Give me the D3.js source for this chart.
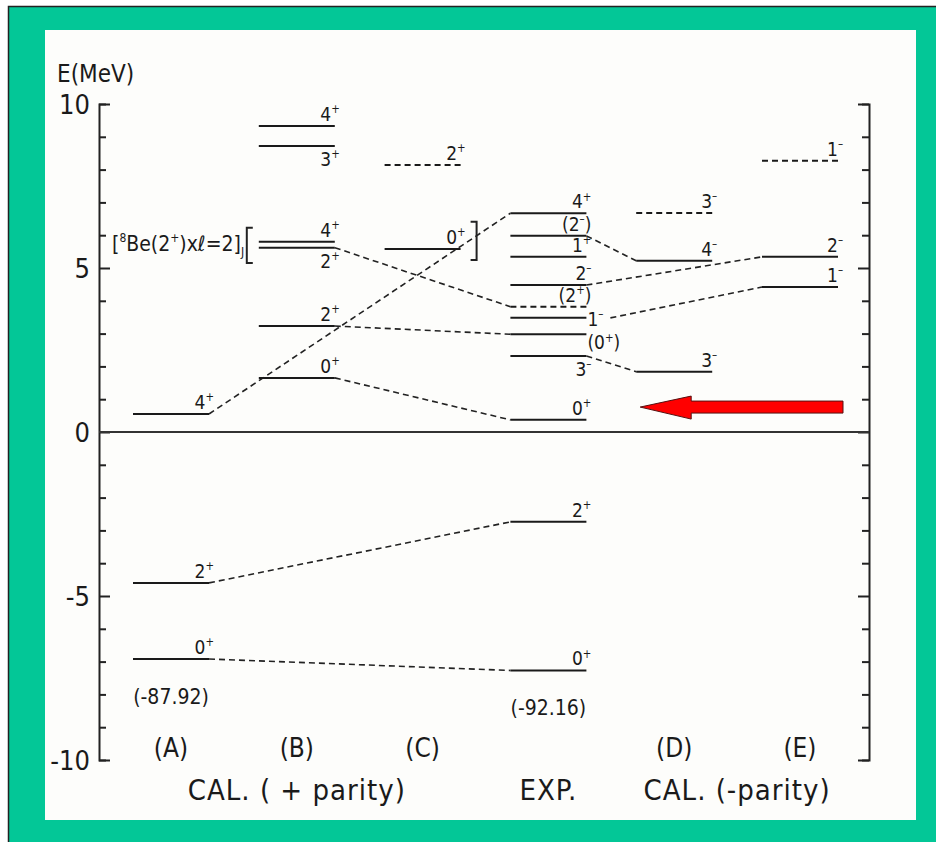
<!DOCTYPE html>
<html lang="en">
<head>
<meta charset="UTF-8">
<title>12C levels</title>
<script src="https://cdn.jsdelivr.net/npm/d3@7"></script>
<style>
  body { margin: 0; background: #fff; }
  svg text { font-family: "Liberation Sans Narrow", "DejaVu Sans Condensed", "Liberation Sans", sans-serif; fill: #1a1a1a; }
</style>
</head>
<body>
<svg id="chart" width="936" height="842"></svg>
<script>
// columns of the level scheme
const columns = ["A", "B", "C", "EXP", "D", "E"];
const columnTags = ["(A)", "(B)", "(C)", "", "(D)", "(E)"];
const groupTitles = [
  { text: "CAL.  ( + parity)", col: "B" },
  { text: "EXP.", col: "EXP" },
  { text: "CAL. (-parity)", col: "D", shift: 0.5 }
];
const yTickLabels = [10, 5, 0, -5, -10];

// level energies (MeV, relative to 3-alpha threshold)
// label: spin^parity ; dashed = tentative / drawn dashed
const levelsA = [
  { id: "A4", e: 0.55, label: "4^+" },
  { id: "A2", e: -4.60, label: "2^+" },
  { id: "A0", e: -6.92, label: "0^+" }
];
const levelsB = [
  { id: "B4a", e: 9.33, label: "4^+" },
  { id: "B3", e: 8.72, label: "3^+" },
  { id: "B4b", e: 5.80, label: "4^+" },
  { id: "B2a", e: 5.62, label: "2^+" },
  { id: "B2b", e: 3.23, label: "2^+" },
  { id: "B0", e: 1.65, label: "0^+" }
];
const levelsC = [
  { id: "C2", e: 8.14, label: "2^+", dashed: true },
  { id: "C0", e: 5.58, label: "0^+" }
];
const levelsEXP = [
  { id: "X4", e: 6.67, label: "4^+" },
  { id: "X2m", e: 5.98, label: "(2^-)" },
  { id: "X1p", e: 5.34, label: "1^+" },
  { id: "X2mb", e: 4.48, label: "2^-" },
  { id: "X2p", e: 3.82, label: "(2^+)", dashed: true },
  { id: "X1m", e: 3.48, label: "1^-" },
  { id: "X0b", e: 2.98, label: "(0^+)" },
  { id: "X3m", e: 2.32, label: "3^-" },
  { id: "X0h", e: 0.37, label: "0^+" },
  { id: "X2g", e: -2.74, label: "2^+" },
  { id: "X0g", e: -7.27, label: "0^+" }
];
const levelsD = [
  { id: "D3a", e: 6.68, label: "3^-", dashed: true },
  { id: "D4", e: 5.22, label: "4^-" },
  { id: "D3b", e: 1.84, label: "3^-" }
];
const levelsE = [
  { id: "E1a", e: 8.27, label: "1^-", dashed: true },
  { id: "E2", e: 5.34, label: "2^-" },
  { id: "E1b", e: 4.42, label: "1^-" }
];

// where a spin label sits when it is not above the line
const labelSide = { B3: "below", B2a: "below", X3m: "below", X1m: "right", X0b: "right" };

// dashed correspondence lines: [from, to]
const links = [
  ["A4", "X4"], ["B2a", "X2p"], ["B2b", "X0b"], ["B0", "X0h"],
  ["A2", "X2g"], ["A0", "X0g"],
  ["X2m", "D4"], ["X2mb", "E2"], ["X1m", "E1b"], ["X3m", "D3b"]
];

// binding energies of the ground states
const groundNotes = [
  { id: "A0", text: "(-87.92)" },
  { id: "X0g", text: "(-92.16)" }
];

// bracketed group [8Be(2+) x l=2]_J spans these levels
const bracketLevels = ["B4b", "B2a", "C0"];
const arrowEnergy = 0.76;

// ---------------------------------------------------------------
const svg = d3.select("#chart");

// teal frame
svg.append("rect").attr("x", 0).attr("y", 0).attr("width", 936).attr("height", 842).attr("fill", "#fff");
svg.append("rect").attr("x", 8.5).attr("y", 6.5).attr("width", 940).attr("height", 850)
  .attr("fill", "#03c797").attr("stroke", "#222").attr("stroke-width", 1.5);
svg.append("rect").attr("x", 45).attr("y", 30).attr("width", 871).attr("height", 790).attr("fill", "#fdfdfb");

const x = d3.scalePoint().domain(columns).range([171, 800]);
const y = d3.scaleLinear().domain([-10, 10]).range([760, 104]);
const halfW = 38;
const leftX = 99, rightX = 869;

const allLevels = [
  ...levelsA.map(d => ({ ...d, col: "A" })),
  ...levelsB.map(d => ({ ...d, col: "B" })),
  ...levelsC.map(d => ({ ...d, col: "C" })),
  ...levelsEXP.map(d => ({ ...d, col: "EXP" })),
  ...levelsD.map(d => ({ ...d, col: "D" })),
  ...levelsE.map(d => ({ ...d, col: "E" }))
];
const byId = new Map(allLevels.map(d => [d.id, d]));

// axes
const ticks = d3.range(-10, 11, 1);
const leftAxis = svg.append("g").attr("transform", `translate(${leftX},0)`)
  .call(d3.axisLeft(y).tickValues(ticks).tickSizeInner(-7).tickSizeOuter(-11).tickFormat(""));
const rightAxis = svg.append("g").attr("transform", `translate(${rightX},0)`)
  .call(d3.axisRight(y).tickValues(ticks).tickSizeInner(-7).tickSizeOuter(-11).tickFormat(""));
[leftAxis, rightAxis].forEach(g => {
  g.select(".domain").attr("stroke", "#222").attr("stroke-width", 2);
  g.selectAll(".tick line").attr("stroke", "#222").attr("stroke-width", 2);
  g.selectAll(".tick").filter(d => d % 5 === 0 && Math.abs(d) !== 10).select("line")
    .attr("x2", g === leftAxis ? 11 : -11);
});

svg.append("g").selectAll("text").data(yTickLabels).join("text")
  .attr("x", leftX - 9).attr("y", d => y(d) + 10)
  .attr("text-anchor", "end").attr("font-size", 27)
  .text(d => d);

svg.append("text").attr("x", 57).attr("y", 82).attr("font-size", 24).text("E(MeV)");

// zero line
svg.append("line").attr("x1", leftX).attr("x2", rightX)
  .attr("y1", y(0)).attr("y2", y(0)).attr("stroke", "#333").attr("stroke-width", 2);

// dashed connecting lines
function linkStart(d) {
  const side = labelSide[d.id];
  return x(d.col) + halfW + (side === "right" ? 24 : 0);
}
svg.append("g").selectAll("line").data(links).join("line")
  .attr("x1", ([a]) => linkStart(byId.get(a)))
  .attr("y1", ([a]) => y(byId.get(a).e))
  .attr("x2", ([, b]) => x(byId.get(b).col) - halfW)
  .attr("y2", ([, b]) => y(byId.get(b).e))
  .attr("stroke", "#222").attr("stroke-width", 1.6).attr("stroke-dasharray", "6,4");

// level lines
svg.append("g").selectAll("line").data(allLevels).join("line")
  .attr("x1", d => x(d.col) - halfW).attr("x2", d => x(d.col) + halfW)
  .attr("y1", d => y(d.e)).attr("y2", d => y(d.e))
  .attr("stroke", "#1a1a1a").attr("stroke-width", 2)
  .attr("stroke-dasharray", d => d.dashed ? "6,4" : null);

// spin labels, "j^p" -> j with superscript p
function spinText(sel, label, size) {
  const m = label.match(/^(.*?)\^(.)(.*)$/);
  sel.append("tspan").text(m[1]);
  sel.append("tspan").attr("font-size", size * 0.6).attr("dy", -size * 0.4).text(m[2] === "-" ? "\u2013" : m[2]);
  sel.append("tspan").attr("dy", size * 0.4).text(m[3]);
}
const labelSize = 19;
allLevels.forEach(d => {
  const side = labelSide[d.id] || "above";
  const x2 = x(d.col) + halfW;
  const t = svg.append("text").attr("font-size", labelSize);
  if (side === "right") {
    t.attr("x", x2 + 1).attr("y", y(d.e) + (d.id === "X1m" ? 8 : 15));
  } else {
    t.attr("x", x2 + 5).attr("text-anchor", "end")
      .attr("y", side === "below" ? y(d.e) + 20 : y(d.e) - 5);
  }
  spinText(t, d.label, labelSize);
});

// binding energies
svg.append("g").selectAll("text").data(groundNotes).join("text")
  .attr("x", d => x(byId.get(d.id).col)).attr("y", d => y(byId.get(d.id).e) + 45)
  .attr("text-anchor", "middle").attr("font-size", 21)
  .text(d => d.text);

// [8Be(2+) x l=2]_J bracket
const bTop = y(d3.max(bracketLevels, id => byId.get(id).e)) - 18;
const bBot = y(d3.min(bracketLevels, id => byId.get(id).e)) + 14;
const bl = x("B") - halfW - 12, br = x("C") + halfW + 16;
svg.append("path").attr("fill", "none").attr("stroke", "#222").attr("stroke-width", 2)
  .attr("d", `M${bl + 6},${bTop + 4}H${bl}V${bBot}H${bl + 6}`);
svg.append("path").attr("fill", "none").attr("stroke", "#222").attr("stroke-width", 2)
  .attr("d", `M${br - 6},${bTop - 2}H${br}V${bBot - 3}H${br - 6}`);
const bt = svg.append("text").attr("x", 112).attr("y", (bTop + bBot) / 2 + 8).attr("font-size", 21);
bt.append("tspan").text("[");
bt.append("tspan").attr("font-size", 12).attr("dy", -9).text("8");
bt.append("tspan").attr("dy", 9).text("Be(2");
bt.append("tspan").attr("font-size", 12).attr("dy", -9).text("+");
bt.append("tspan").attr("dy", 9).text(")x");
bt.append("tspan").attr("font-style", "italic").attr("font-family", "DejaVu Sans Condensed").text("\u2113");
bt.append("tspan").text("=2]");
bt.append("tspan").attr("font-size", 12).attr("dy", 5).text("J");

// red arrow pointing at the Hoyle state region
const ay = y(arrowEnergy);
const tip = x("D") - 34, tail = x("E") + 43, neck = tip + 51;
svg.append("path")
  .attr("d", `M${tip},${ay} L${neck},${ay - 11} V${ay - 6} H${tail} V${ay + 6} H${neck} V${ay + 12} Z`)
  .attr("fill", "#ff0000").attr("stroke", "#551111").attr("stroke-width", 1);

// column tags and group titles
svg.append("g").selectAll("text").data(columns).join("text")
  .attr("x", d => x(d)).attr("y", 757)
  .attr("text-anchor", "middle").attr("font-size", 26)
  .text((d, i) => columnTags[i]);

svg.append("g").selectAll("text").data(groupTitles).join("text")
  .attr("x", d => x(d.col) + (d.shift || 0) * x.step()).attr("y", 800)
  .attr("text-anchor", "middle").attr("font-size", 29).attr("letter-spacing", 1)
  .text(d => d.text);
</script>
</body>
</html>
